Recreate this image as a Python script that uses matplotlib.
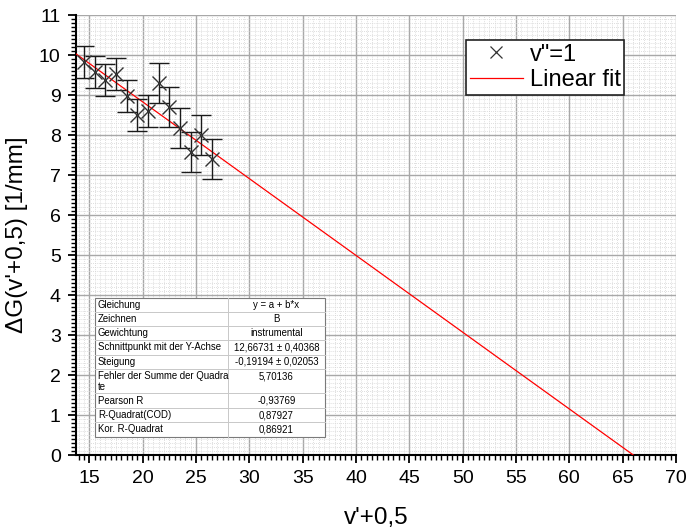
import matplotlib
matplotlib.use("Agg")
import matplotlib.pyplot as plt
from matplotlib.patches import Rectangle
from matplotlib.lines import Line2D
from matplotlib.ticker import MultipleLocator
import numpy as np

plt.rcParams['font.family'] = ['Liberation Sans', 'DejaVu Sans']

# ---- data ----
x_vals = [14.5, 15.5, 16.5, 17.5, 18.5, 19.5, 20.5, 21.5, 22.5, 23.5, 24.5, 25.5, 26.5]
y_vals = [9.83, 9.58, 9.38, 9.52, 8.98, 8.50, 8.60, 9.29, 8.69, 8.18, 7.58, 7.99, 7.39]
y_err = [0.4, 0.4, 0.4, 0.4, 0.4, 0.4, 0.4, 0.5, 0.5, 0.5, 0.5, 0.5, 0.5]
fit_intercept = 12.66731
fit_slope = -0.19194

table_labels = ["Gleichung", "Zeichnen", "Gewichtung", "Schnittpunkt mit der Y-Achse",
                "Steigung", "Fehler der Summe der Quadra\nte", "Pearson R",
                "R-Quadrat(COD)", "Kor. R-Quadrat"]
table_values = ["y = a + b*x", "B", "instrumental", "12,66731 \u00b1 0,40368",
                "-0,19194 \u00b1 0,02053", "5,70136", "-0,93769", "0,87927", "0,86921"]

W, H = 689, 530
fig = plt.figure(figsize=(W / 100, H / 100), dpi=100)

def fx(px):
    return px / W

def fy(py):
    return 1 - py / H

ax = fig.add_axes([fx(76), fy(455), (676 - 76) / W, (455 - 15) / H])
ax.set_xlim(13.75, 70)
ax.set_ylim(0, 11)

ax.xaxis.set_major_locator(MultipleLocator(5))
ax.xaxis.set_minor_locator(MultipleLocator(0.5))
ax.yaxis.set_major_locator(MultipleLocator(1))
ax.yaxis.set_minor_locator(MultipleLocator(0.1))

ax.grid(which='minor', color='#d4d4d4', linestyle=(0, (1, 1.5)), linewidth=0.6, zorder=0)
ax.grid(which='major', color='#a8a8a8', linestyle='-', linewidth=1.0, zorder=0.5)
ax.set_axisbelow(True)

for s in ['top', 'right']:
    ax.spines[s].set_visible(False)
for s in ['left', 'bottom']:
    ax.spines[s].set_linewidth(1.5)
    ax.spines[s].set_color('black')

ax.tick_params(which='major', direction='out', length=6, width=1.3, labelsize=14, pad=5)
ax.tick_params(which='minor', direction='out', length=3.5, width=1.0)

# fit line
xf = np.array([13.75, 70.0])
ax.plot(xf, fit_intercept + fit_slope * xf, color='#ff0000', linewidth=0.9, zorder=3,
        label='Linear fit')

# data with error bars
ax.errorbar(x_vals, y_vals, yerr=y_err, fmt='none', ecolor='#1a1a1a', elinewidth=1.0,
            capsize=7, capthick=1.0, zorder=4)
ax.plot(x_vals, y_vals, linestyle='none', marker='x', markersize=9.5, markeredgewidth=1.0,
        color='#333333', zorder=5)

ax.set_xlabel("v'+0,5", fontsize=17.5, labelpad=14)
ax.set_ylabel("\u0394G(v'+0,5) [1/mm]", fontsize=17.5, labelpad=8)

# legend
handles = [Line2D([], [], linestyle='none', marker='x', markersize=8, markeredgewidth=0.9,
                  color='#333333'),
           Line2D([], [], color='#ff0000', linewidth=0.9)]
leg = ax.legend(handles, ['v"=1', 'Linear fit'], loc='upper left',
                bbox_to_anchor=(fx(466), fy(40)), bbox_transform=fig.transFigure,
                fontsize=17, frameon=True, fancybox=False, framealpha=1,
                edgecolor='#222222', borderpad=0.15, handlelength=2.25,
                handletextpad=0.3, labelspacing=0.15, borderaxespad=0)
leg.get_frame().set_linewidth(1.2)

# statistics table
tl, tm, tr = 95, 228, 325
rows = [297.5, 311.7, 326, 340, 355, 369, 393.3, 408.3, 422.3, 436.7]
fig.add_artist(Rectangle((fx(tl), fy(rows[-1])), (tr - tl) / W, (rows[-1] - rows[0]) / H,
                         transform=fig.transFigure, facecolor='white', edgecolor='#7a7a7a',
                         linewidth=0.8, zorder=5))
for r in rows[1:-1]:
    fig.add_artist(Line2D([fx(tl), fx(tr)], [fy(r), fy(r)], transform=fig.transFigure,
                          color='#c8c8c8', linewidth=0.7, zorder=6))
fig.add_artist(Line2D([fx(tm), fx(tm)], [fy(rows[0]), fy(rows[-1])], transform=fig.transFigure,
                      color='#c8c8c8', linewidth=0.7, zorder=6))
for i, (lab, val) in enumerate(zip(table_labels, table_values)):
    top, bot = rows[i], rows[i + 1]
    if '\n' in lab:
        l1, l2 = lab.split('\n')
        fig.text(fx(tl + 3), fy(top + 7.2), l1, fontsize=6.9, va='center', ha='left', zorder=7)
        fig.text(fx(tl + 3), fy(top + 18.5), l2, fontsize=6.9, va='center', ha='left', zorder=7)
        fig.text(fx((tm + tr) / 2), fy(top + 7.2), val, fontsize=6.9, va='center', ha='center', zorder=7)
    else:
        yc = (top + bot) / 2
        fig.text(fx(tl + 3), fy(yc), lab, fontsize=6.9, va='center', ha='left', zorder=7)
        fig.text(fx((tm + tr) / 2), fy(yc), val, fontsize=6.9, va='center', ha='center', zorder=7)

fig.savefig("out.png", dpi=100)
